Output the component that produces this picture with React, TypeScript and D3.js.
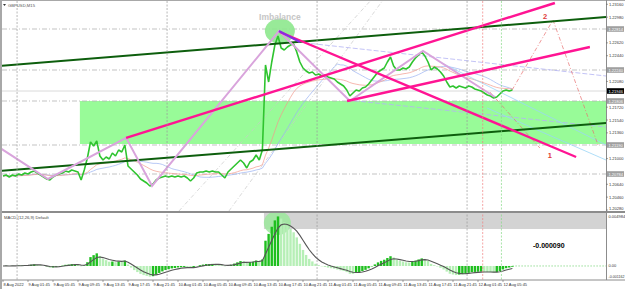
import React from "react";
import * as d3 from "d3";

// GBPUSD M15, resampled to 30 min closes
const closes = [
  1.20756, 1.2077, 1.20742, 1.2077, 1.20756, 1.20784, 1.2077, 1.20798, 1.20784, 1.20812,
  1.20826, 1.20798, 1.2077, 1.20742, 1.20714, 1.207, 1.20742, 1.2077, 1.20784, 1.20798,
  1.20826, 1.20812, 1.2084, 1.20826, 1.20812, 1.207, 1.2084, 1.21008, 1.21232, 1.21176,
  1.21246, 1.21036, 1.2098, 1.21022, 1.20994, 1.21078, 1.21036, 1.2112, 1.21092, 1.2119,
  1.20896, 1.20854, 1.20812, 1.2077, 1.20714, 1.20686, 1.20658, 1.20616, 1.20644, 1.207,
  1.20728, 1.20742, 1.20756, 1.20742, 1.20756, 1.20742, 1.20756, 1.20742, 1.20756, 1.20728,
  1.20686, 1.20728, 1.20798, 1.20812, 1.20812, 1.20826, 1.20812, 1.20826, 1.20812, 1.20812,
  1.2077, 1.20728, 1.20812, 1.20854, 1.20896, 1.20938, 1.2098, 1.20938, 1.20868, 1.20952,
  1.2098, 1.2105, 1.2098, 1.2112, 1.2231, 1.22072, 1.22352, 1.2259, 1.22716, 1.22548,
  1.2252, 1.22562, 1.2259, 1.22604, 1.22492, 1.22352, 1.22268, 1.22226, 1.22198, 1.22212,
  1.2217, 1.22184, 1.22156, 1.2217, 1.22142, 1.22128, 1.22114, 1.22072, 1.22044, 1.22016,
  1.2196, 1.21876, 1.21918, 1.2196, 1.21946, 1.21988, 1.22002, 1.22044, 1.221, 1.22156,
  1.22212, 1.2224, 1.22268, 1.22352, 1.22422, 1.22296, 1.2224, 1.2224, 1.22268, 1.22254,
  1.22282, 1.22352, 1.22408, 1.2245, 1.22492, 1.22436, 1.22352, 1.2224, 1.22282, 1.22254,
  1.22212, 1.22156, 1.22072, 1.22002, 1.22016, 1.21988, 1.22016, 1.22002, 1.21988, 1.22016,
  1.22002, 1.21974, 1.2196, 1.21946, 1.21918, 1.2189, 1.21876, 1.21848, 1.21862, 1.21904,
  1.21946, 1.2196, 1.21946, 1.2196,
];

const timeLabels = [
  "8 Aug 2022", "9 Aug 01:45", "9 Aug 05:45", "9 Aug 09:45", "9 Aug 13:45", "9 Aug 17:45",
  "9 Aug 21:45", "10 Aug 01:45", "10 Aug 05:45", "10 Aug 09:45", "10 Aug 13:45",
  "10 Aug 17:45", "10 Aug 21:45", "11 Aug 01:45", "11 Aug 05:45", "11 Aug 09:45",
  "11 Aug 13:45", "11 Aug 17:45", "11 Aug 21:45", "12 Aug 01:45", "12 Aug 05:45",
];

const priceTicks = [
  1.2316, 1.2298, 1.228, 1.2262, 1.2244, 1.2226, 1.2208, 1.219, 1.2172, 1.2154, 1.2136,
  1.2118, 1.21, 1.2082, 1.2064, 1.2046, 1.2028,
];

const levelPrices = [1.22814, 1.2224, 1.21806, 1.2119, 1.20784];
const bidPrice = 1.21946;
const daySeparators = [4.5, 52.5, 100.5, 148.5];
const redMarker = 153.5;
const greenMarker = 159.5;

const zigzag = [
  [-0.96, 1.21148], [14.4, 1.20714], [39.4, 1.2129], [47.7, 1.20616],
  [88.3, 1.22786], [111.0, 1.21806], [134.4, 1.22506], [157.4, 1.21862],
];

const darkGreenLines = [
  [[-0.96, 1.22296], [192.96, 1.22982]],
  [[-0.96, 1.20826], [192.96, 1.21498]],
];

const pinkLines = [
  [[39.4, 1.2129], [176.6, 1.23178]],
  [[110.1, 1.21806], [187.8, 1.22562]],
  [[88.6, 1.22772], [183.4, 1.21022]],
];

const violetLine = [[88.3, 1.22786], [95.0, 1.22632]];

const lavenderLines = [
  [[94.1, 1.22632], [192.96, 1.22156]],
  [[110.1, 1.2182], [192.96, 1.21442]],
];

const skyLines = [
  [[139.8, 1.22352], [192.96, 1.2119]],
  [[154.9, 1.21708], [192.96, 1.2098]],
];

const grayDiagonals = [
  [[72.3, 1.20266], [121.6, 1.2322]],
  [[56.3, 1.20266], [117.8, 1.2322]],
];

const projection2 = [[162.9, 1.2196], [176.0, 1.2294], [190.4, 1.2119]];
const projection1 = [[155.8, 1.21932], [171.8, 1.21148]];

const demandZone = { from: 24.6, top: 1.21806, bottom: 1.21204 };
const macdZone = { from: 83.5, top: 0.005, bottom: 0.00348 };
const imbalance = { bar: 88.6, price: 1.22786 };
const macdImbalance = { bar: 87.8, value: 0.00405 };
const macdTicks = [0.004984, 0, -0.001162];

const FONT = "Liberation Sans, Arial, sans-serif";

const ema = (arr: number[], n: number) => {
  const k = 2 / (n + 1);
  let prev = arr[0];
  return arr.map((v, i) => (i === 0 ? v : (prev = v * k + prev * (1 - k))));
};

export default function App() {
  const W = 625;
  const H = 289;
  const right = 606;

  const x = d3.scaleLinear().domain([0, 192.96]).range([3, right]);
  const y = d3.scaleLinear().domain([1.20266, 1.2322]).range([211, 0]);
  const m = d3.scaleLinear().domain([-0.00132, 0.00499]).range([280, 213]);

  // indicators from the closes (30 min bars, so MACD periods are halved)
  const fast = ema(closes, 6);
  const slow = ema(closes, 13);
  const macd = closes.map((_, i) => fast[i] - slow[i]);
  const signal = ema(macd, 5);
  const maBlue = closes.map((_, i) => d3.mean(closes.slice(Math.max(0, i - 23), i + 1)) as number);
  const maRed = ema(closes, 20);

  const seg = d3.line<number[]>().x((d) => x(d[0])).y((d) => y(d[1]));
  const series = d3.line<number>().x((_, i) => x(i)).y((d) => y(d));
  const macdLine = d3.line<number>().x((_, i) => x(i)).y((d) => m(d));

  // hide regular axis labels that sit under a level / bid box
  const boxes = [...levelPrices, bidPrice].map((p) => y(p));
  const visibleTicks = priceTicks.filter((p) => boxes.every((b) => Math.abs(y(p) - b) > 5.5));

  return (
    <svg width={W} height={H} style={{ position: "absolute", left: 0, top: 0 }} fontFamily={FONT}>
      <defs>
        <clipPath id="mainClip">
          <rect x={2} y={1} width={right - 2} height={210} />
        </clipPath>
        <clipPath id="subClip">
          <rect x={2} y={213} width={right - 2} height={67} />
        </clipPath>
      </defs>
      <rect width={W} height={H} fill="#fff" />

      {/* main pane */}
      <g clipPath="url(#mainClip)">
        <rect
          x={x(demandZone.from)}
          y={y(demandZone.top)}
          width={right - x(demandZone.from)}
          height={y(demandZone.bottom) - y(demandZone.top)}
          fill="#98fb98"
        />
        {levelPrices.map((p) => (
          <line key={p} x1={2} x2={right} y1={y(p)} y2={y(p)} stroke="#b4b4b4" strokeWidth={0.8} strokeDasharray="5 2 1 2" />
        ))}
        <line x1={2} x2={right} y1={y(bidPrice)} y2={y(bidPrice)} stroke="#d0d0d0" strokeWidth={0.8} />
        {grayDiagonals.map((l, i) => (
          <path key={i} d={seg(l) as string} stroke="#c8c8c8" strokeWidth={0.7} strokeDasharray="4 2 1 2" fill="none" />
        ))}
        <ellipse cx={x(imbalance.bar)} cy={y(imbalance.price)} rx={15} ry={12.5} fill="#8de88d" opacity={0.9} />
        <path d={series(maBlue) as string} stroke="#9ab2f2" strokeWidth={0.7} fill="none" />
        <path d={series(maRed) as string} stroke="#f29a8c" strokeWidth={0.7} fill="none" />
        {lavenderLines.map((l, i) => (
          <path key={i} d={seg(l) as string} stroke="#b4b4f4" strokeWidth={0.8} strokeDasharray="5 2" fill="none" />
        ))}
        {skyLines.map((l, i) => (
          <path key={i} d={seg(l) as string} stroke="#9ad6f6" strokeWidth={0.8} fill="none" />
        ))}
        <path d={seg(projection2) as string} stroke="#e87070" strokeWidth={0.7} strokeDasharray="4 2 1 2" fill="none" />
        <path d={seg(projection1) as string} stroke="#e87070" strokeWidth={0.7} strokeDasharray="4 2 1 2" fill="none" />
        <path d={series(closes) as string} stroke="#2fc42f" strokeWidth={1.6} fill="none" strokeLinejoin="bevel" />
        {darkGreenLines.map((l, i) => (
          <path key={i} d={seg(l) as string} stroke="#0d5e0d" strokeWidth={2} fill="none" />
        ))}
        <path d={seg(zigzag) as string} stroke="#d9a4dc" strokeWidth={2} fill="none" />
        {pinkLines.map((l, i) => (
          <path key={i} d={seg(l) as string} stroke="#ff1493" strokeWidth={2.4} fill="none" />
        ))}
        <path d={seg(violetLine) as string} stroke="#8a2be2" strokeWidth={2.2} fill="none" />
        <text x={x(imbalance.bar)} y={y(1.2294)} textAnchor="middle" fontSize={8.5} fontWeight="bold" fill="#c6c6c6">
          Imbalance
        </text>
        <text x={x(173.5)} y={y(1.2295)} textAnchor="middle" fontSize={7.5} fontWeight="bold" fill="#e03a3a">2</text>
        <text x={x(175)} y={y(1.2101)} textAnchor="middle" fontSize={7.5} fontWeight="bold" fill="#e03a3a">1</text>
      </g>

      {/* MACD pane */}
      <g clipPath="url(#subClip)">
        <rect
          x={x(macdZone.from)}
          y={m(macdZone.top)}
          width={right - x(macdZone.from)}
          height={m(macdZone.bottom) - m(macdZone.top)}
          fill="#d3d3d3"
        />
        <ellipse cx={x(macdImbalance.bar)} cy={m(macdImbalance.value)} rx={13.5} ry={12} fill="#9be89b" opacity={0.85} />
        {macd.map((v, i) => {
          const rising = i === 0 || v >= macd[i - 1];
          return (
            <rect
              key={i}
              x={x(i) - 1.2}
              width={2.4}
              y={Math.min(m(v), m(0))}
              height={Math.abs(m(v) - m(0))}
              fill={rising ? "#1fbf1f" : "#b6efb6"}
            />
          );
        })}
        <path d={macdLine(signal) as string} stroke="#555" strokeWidth={1.1} fill="none" />
        <line x1={x(closes.length - 1)} x2={right} y1={m(0)} y2={m(0)} stroke="#7fd67f" strokeWidth={0.8} strokeDasharray="1.5 1.5" />
        <text x={x(169.6)} y={m(0.00165)} fontSize={7} fontWeight="bold" fill="#000">-0.000090</text>
      </g>

      {/* vertical markers across both panes */}
      {daySeparators.map((b) => (
        <line key={b} x1={x(b)} x2={x(b)} y1={1} y2={280} stroke="#9a9a9a" strokeWidth={0.7} strokeDasharray="2 1.5" />
      ))}
      <line x1={x(redMarker)} x2={x(redMarker)} y1={1} y2={280} stroke="#f08080" strokeWidth={0.7} strokeDasharray="2 1.5" />
      <line x1={x(greenMarker)} x2={x(greenMarker)} y1={1} y2={280} stroke="#86d886" strokeWidth={0.7} strokeDasharray="2 1.5" />

      <text x={8} y={6.5} fontSize={4.2} fill="#555">GBPUSD,M15</text>
      <path d="M3,4 L6,4 L4.5,6 Z" fill="#333" />
      <text x={4} y={218.5} fontSize={4.2} fill="#444">MACD (12,26,9) Default</text>

      {/* frame */}
      <rect x={0} y={0} width={2} height={H} fill="#a8a8a8" />
      <line x1={0} x2={W} y1={0.5} y2={0.5} stroke="#a8a8a8" />
      <line x1={2} x2={W} y1={212} y2={212} stroke="#8c8c8c" strokeWidth={2} />
      <line x1={2} x2={W} y1={280} y2={280} stroke="#8c8c8c" strokeWidth={1} />
      <line x1={right + 0.5} x2={right + 0.5} y1={0} y2={280} stroke="#8c8c8c" strokeWidth={1} />

      {/* price axis */}
      {visibleTicks.map((p) => (
        <g key={p}>
          <line x1={right} x2={right + 2} y1={y(p)} y2={y(p)} stroke="#666" strokeWidth={0.6} />
          <text x={right + 3} y={Math.min(y(p) + 1.5, 209.5)} fontSize={4} fill="#333">{p.toFixed(5)}</text>
        </g>
      ))}
      {levelPrices.map((p) => (
        <g key={p}>
          <rect x={right + 1} y={y(p) - 2.8} width={17} height={5.6} fill="#a0a0a0" />
          <text x={right + 2.5} y={y(p) + 1.5} fontSize={4} fill="#fff">{p.toFixed(5)}</text>
        </g>
      ))}
      <rect x={right + 1} y={y(bidPrice) - 2.8} width={17} height={5.6} fill="#000" />
      <text x={right + 2.5} y={y(bidPrice) + 1.5} fontSize={4} fill="#fff">{bidPrice.toFixed(5)}</text>
      {macdTicks.map((v) => (
        <text
          key={v}
          x={right + 2.5}
          y={Math.min(Math.max(m(v) + 1.5, 217.5), 278)}
          fontSize={v < 0 ? 3.6 : 4}
          fill="#333"
        >
          {v === 0 ? "0.00" : v.toFixed(6)}
        </text>
      ))}

      {/* time axis */}
      {timeLabels.map((t, k) => (
        <g key={t}>
          <line x1={x(k * 8)} x2={x(k * 8)} y1={280} y2={282} stroke="#666" strokeWidth={0.6} />
          <text x={x(k * 8) + 0.5} y={286} fontSize={4} fill="#333">{t}</text>
        </g>
      ))}
    </svg>
  );
}
